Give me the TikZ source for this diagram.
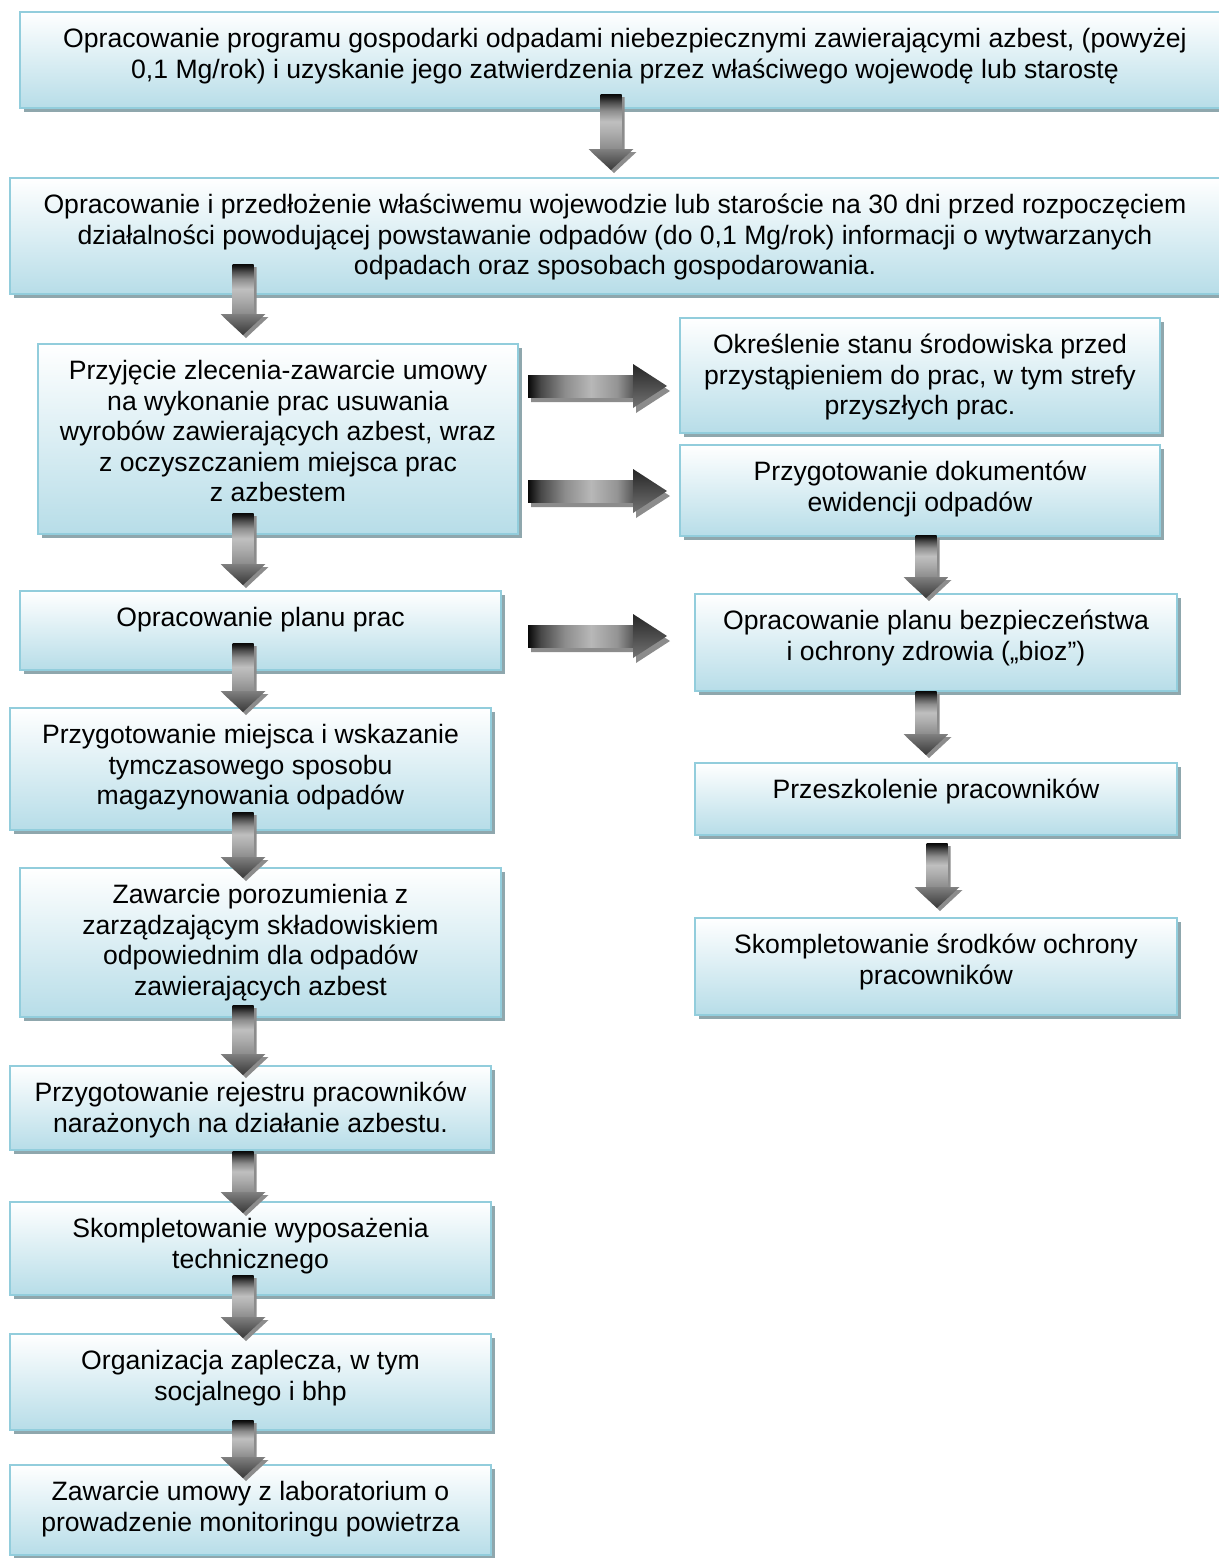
\documentclass[tikz,border=0pt]{standalone}
\usepackage{fontspec}
\setmainfont{Liberation Sans}
\usetikzlibrary{shadows,fit,calc}
\definecolor{boxbot}{RGB}{183,221,232}
\definecolor{boxline}{RGB}{146,205,220}
\definecolor{boxshad}{RGB}{143,167,173}
\colorlet{arrshadow}{black!45}
% path bounding box maps to 25bp..75bp of the declared shading
\pgfdeclareverticalshading{vshaft}{100bp}{color(0bp)=(black!45); color(25bp)=(black!45); color(40bp)=(black!32); color(50bp)=(black!25); color(60bp)=(black!45); color(67.5bp)=(black!70); color(72.5bp)=(black!90); color(75bp)=(black!97); color(100bp)=(black!97)}
\pgfdeclarehorizontalshading{hshaft}{100bp}{color(0bp)=(black!97); color(25bp)=(black!97); color(31bp)=(black!72); color(42.5bp)=(black!45); color(55bp)=(black!28); color(67.5bp)=(black!42); color(75bp)=(black!65); color(100bp)=(black!65)}
% vertical block arrow: #1 start (top centre), #2 tip
\newcommand\varr[2]{%
  \fill[arrshadow] let \p1=#1, \p2=#2 in (\x1-3.75pt,\y1-1.5pt) -- (\x1+6.75pt,\y1-1.5pt) -- (\x1+6.75pt,\y2+9pt) -- (\x1+12.75pt,\y2+9pt) -- (\x1+1.5pt,\y2-1.5pt) -- (\x1-9.75pt,\y2+9pt) -- (\x1-3.75pt,\y2+9pt) -- cycle;
  \shade[shading=vshaft] let \p1=#1, \p2=#2 in (\x1-5.25pt,\y1) rectangle (\x1+5.25pt,\y2+10.5pt);
  \shade[top color=black!50, bottom color=black!78] let \p1=#1, \p2=#2 in (\x1-11.25pt,\y2+10.5pt) -- (\x1+11.25pt,\y2+10.5pt) -- (\x1,\y2) -- cycle;
}
% horizontal block arrow: #1 start (left centre), #2 tip
\newcommand\harr[2]{%
  \fill[arrshadow] let \p1=#1, \p2=#2 in (\x1+1.5pt,\y1+3pt) -- (\x2-15.5pt,\y1+3pt) -- (\x2-15.5pt,\y1+8.5pt) -- (\x2+1.5pt,\y1-2.5pt) -- (\x2-15.5pt,\y1-13.5pt) -- (\x2-15.5pt,\y1-8pt) -- (\x1+1.5pt,\y1-8pt) -- cycle;
  \shade[shading=hshaft] let \p1=#1, \p2=#2 in (\x1,\y1-5.5pt) rectangle (\x2-17pt,\y1+5.5pt);
  \shade[top color=black!85, bottom color=black!55] let \p1=#1, \p2=#2 in (\x2-17pt,\y1+11pt) -- (\x2,\y1) -- (\x2-17pt,\y1-11pt) -- cycle;
}
\tikzset{
  box/.style={draw=boxline, line width=1pt, top color=white, bottom color=boxbot, inner sep=0pt,
    drop shadow={shadow xshift=2pt, shadow yshift=-2pt, fill=boxshad, opacity=1}},
  txt/.style={anchor=north, align=center, inner sep=0pt, text=black,
    font=\fontsize{13.3}{15.25}\selectfont},
}
\newcommand\fst{\rule{0pt}{10pt}}
\begin{document}
\begin{tikzpicture}[x=0.5pt,y=-0.5pt]
\clip (0,0) rectangle (1219,1558);
\fill[white] (0,0) rectangle (1219,1558);
% boxes
\node[box, fit={(20,12)(1230,108)}] (b1) {};
\node[box, fit={(10,178)(1220,294)}] (b2) {};
\node[box, fit={(38,344)(518,534)}] (b3) {};
\node[box, fit={(680,318)(1160,433)}] (r1) {};
\node[box, fit={(680,445)(1160,536)}] (r2) {};
\node[box, fit={(20,591)(501,670)}] (b4) {};
\node[box, fit={(695,594)(1177,691)}] (r3) {};
\node[box, fit={(10,708)(491,830)}] (b5) {};
\node[box, fit={(695,763)(1177,835)}] (r4) {};
\node[box, fit={(20,868)(501,1017)}] (b6) {};
\node[box, fit={(695,918)(1177,1015)}] (r5) {};
\node[box, fit={(10,1066)(491,1150)}] (b7) {};
\node[box, fit={(10,1202)(491,1295)}] (b8) {};
\node[box, fit={(10,1334)(491,1430)}] (b9) {};
\node[box, fit={(10,1465)(491,1555)}] (b10) {};
% texts
\node[txt] (t1) at ($(b1.north)+(0,16.5)$) {\fst Opracowanie programu gospodarki odpadami niebezpiecznymi zawierającymi azbest, (powyżej\\0,1 Mg/rok) i uzyskanie jego zatwierdzenia przez właściwego wojewodę lub starostę};
\node[txt] (t2) at ($(b2.north)+(0,16.5)$) {\fst Opracowanie i przedłożenie właściwemu wojewodzie lub staroście na 30 dni przed rozpoczęciem\\działalności powodującej powstawanie odpadów (do 0,1 Mg/rok) informacji o wytwarzanych\\odpadach oraz sposobach gospodarowania.};
\node[txt] (t3) at ($(b3.north)+(0,16.5)$) {\fst Przyjęcie zlecenia-zawarcie umowy\\na wykonanie prac usuwania\\wyrobów zawierających azbest, wraz\\z oczyszczaniem miejsca prac\\z azbestem};
\node[txt] (tr1) at ($(r1.north)+(0,16.5)$) {\fst Określenie stanu środowiska przed\\przystąpieniem do prac, w tym strefy\\przyszłych prac.};
\node[txt] (tr2) at ($(r2.north)+(0,16.5)$) {\fst Przygotowanie dokumentów\\ewidencji odpadów};
\node[txt] (t4) at ($(b4.north)+(0,16.5)$) {\fst Opracowanie planu prac};
\node[txt] (tr3) at ($(r3.north)+(0,16.5)$) {\fst Opracowanie planu bezpieczeństwa\\i ochrony zdrowia („bioz”)};
\node[txt] (t5) at ($(b5.north)+(0,16.5)$) {\fst Przygotowanie miejsca i wskazanie\\tymczasowego sposobu\\magazynowania odpadów};
\node[txt] (tr4) at ($(r4.north)+(0,16.5)$) {\fst Przeszkolenie pracowników};
\node[txt] (t6) at ($(b6.north)+(0,16.5)$) {\fst Zawarcie porozumienia z\\zarządzającym składowiskiem\\odpowiednim dla odpadów\\zawierających azbest};
\node[txt] (tr5) at ($(r5.north)+(0,16.5)$) {\fst Skompletowanie środków ochrony\\pracowników};
\node[txt] (t7) at ($(b7.north)+(0,16.5)$) {\fst Przygotowanie rejestru pracowników\\narażonych na działanie azbestu.};
\node[txt] (t8) at ($(b8.north)+(0,16.5)$) {\fst Skompletowanie wyposażenia\\technicznego};
\node[txt] (t9) at ($(b9.north)+(0,16.5)$) {\fst Organizacja zaplecza, w tym\\socjalnego i bhp};
\node[txt] (t10) at ($(b10.north)+(0,16.5)$) {\fst Zawarcie umowy z laboratorium o\\prowadzenie monitoringu powietrza};
% arrow end points
\coordinate (a1s) at (611,94);   \coordinate (a1e) at (611,170);
\coordinate (a2s) at (243,264);  \coordinate (a2e) at (243,335);
\coordinate (a3s) at (243,513);  \coordinate (a3e) at (243,585);
\coordinate (a4s) at (243,643);  \coordinate (a4e) at (243,712);
\coordinate (a5s) at (243,812);  \coordinate (a5e) at (243,878);
\coordinate (a6s) at (243,1005); \coordinate (a6e) at (243,1075);
\coordinate (a7s) at (243,1151); \coordinate (a7e) at (243,1213);
\coordinate (a8s) at (243,1275); \coordinate (a8e) at (243,1338);
\coordinate (a9s) at (243,1420); \coordinate (a9e) at (243,1478);
\coordinate (c1s) at (926,535);  \coordinate (c1e) at (926,598);
\coordinate (c2s) at (926,691);  \coordinate (c2e) at (926,755);
\coordinate (c3s) at (937,843);  \coordinate (c3e) at (937,908);
\coordinate (h1s) at (528,386);  \coordinate (h1e) at (667,386);
\coordinate (h2s) at (528,491);  \coordinate (h2e) at (667,491);
\coordinate (h3s) at (528,636);  \coordinate (h3e) at (667,636);
% arrows
\varr{(a1s)}{(a1e)}
\varr{(a2s)}{(a2e)}
\varr{(a3s)}{(a3e)}
\varr{(a4s)}{(a4e)}
\varr{(a5s)}{(a5e)}
\varr{(a6s)}{(a6e)}
\varr{(a7s)}{(a7e)}
\varr{(a8s)}{(a8e)}
\varr{(a9s)}{(a9e)}
\varr{(c1s)}{(c1e)}
\varr{(c2s)}{(c2e)}
\varr{(c3s)}{(c3e)}
\harr{(h1s)}{(h1e)}
\harr{(h2s)}{(h2e)}
\harr{(h3s)}{(h3e)}
\end{tikzpicture}
\end{document}
